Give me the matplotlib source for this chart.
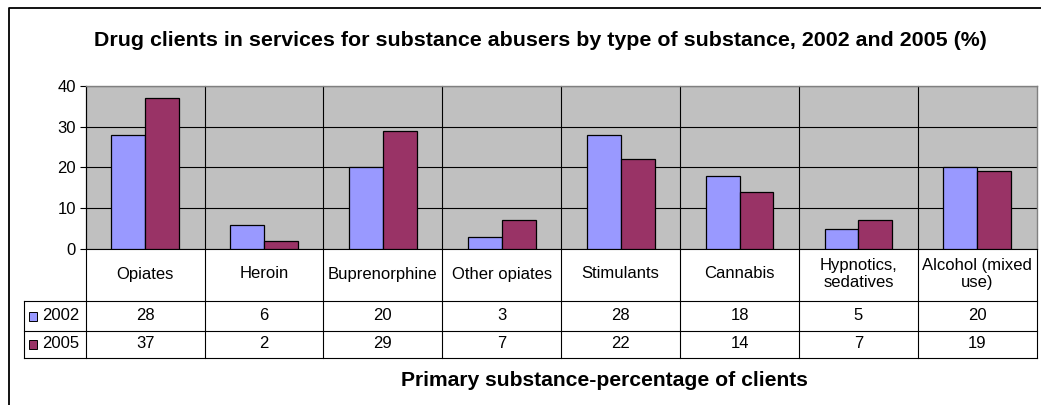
import matplotlib
matplotlib.use("Agg")
import matplotlib.pyplot as plt
import matplotlib.transforms as mtransforms
from matplotlib.patches import Rectangle
import numpy as np

plt.rcParams['font.family'] = ['Liberation Sans', 'DejaVu Sans']

categories = ["Opiates", "Heroin", "Buprenorphine", "Other opiates", "Stimulants",
              "Cannabis", "Hypnotics,\nsedatives", "Alcohol (mixed\nuse)"]
years = ["2002", "2005"]
values_2002 = [28, 6, 20, 3, 28, 18, 5, 20]
values_2005 = [37, 2, 29, 7, 22, 14, 7, 19]
colors = ["#9999FF", "#993366"]

W, H = 1041, 405
fig = plt.figure(figsize=(W / 100, H / 100), dpi=100)

# plot area in pixels
px_left, px_right, px_top, px_bottom = 85.7, 1036.7, 85.7, 249
ax = fig.add_axes([px_left / W, (H - px_bottom) / H,
                   (px_right - px_left) / W, (px_bottom - px_top) / H])
ax.set_facecolor("#C0C0C0")

x = np.arange(len(categories))
bw = 0.285
ax.bar(x - bw / 2, values_2002, bw, color=colors[0], edgecolor="black", linewidth=0.9, zorder=3)
ax.bar(x + bw / 2, values_2005, bw, color=colors[1], edgecolor="black", linewidth=0.9, zorder=3)

ax.set_xlim(-0.5, len(categories) - 0.5)
ax.set_ylim(0, 40)
ax.set_yticks([0, 10, 20, 30, 40])
ax.tick_params(axis='y', direction='out', length=4, width=0.8, labelsize=12, pad=3)
ax.set_xticks([])
ax.yaxis.grid(True, color="black", linewidth=0.8)
ax.set_axisbelow(True)
for s in ["top", "right"]:
    ax.spines[s].set_color("#808080")
    ax.spines[s].set_linewidth(1.0)
ax.spines["left"].set_linewidth(0.8)
ax.spines["bottom"].set_linewidth(0.8)


# table below the plot: x in data units, y in axes fraction
def fy(py):
    return (px_bottom - py) / (px_bottom - px_top)


trans = mtransforms.blended_transform_factory(ax.transData, ax.transAxes)
x_leg = -0.5 - (px_left - 24.3) / ((px_right - px_left) / len(categories))
row_y = [249, 301, 331, 358]
lkw = dict(color="black", linewidth=0.8, transform=trans, clip_on=False)

for i in range(len(categories)):
    xd = i - 0.5
    ax.plot([xd, xd], [1, fy(row_y[-1])], **lkw)
ax.plot([7.5, 7.5], [0, fy(row_y[-1])], **lkw)
ax.plot([x_leg, x_leg], [fy(row_y[1]), fy(row_y[-1])], **lkw)
for py in row_y[1:]:
    ax.plot([x_leg, 7.5], [fy(py), fy(py)], **lkw)

for i, cat in enumerate(categories):
    ax.text(i, fy(274), cat, transform=trans, ha="center", va="center",
            fontsize=12, linespacing=1.2)
    ax.text(i, fy(316), str(values_2002[i]), transform=trans, ha="center", va="center", fontsize=12)
    ax.text(i, fy(344), str(values_2005[i]), transform=trans, ha="center", va="center", fontsize=12)

# legend keys in the table
for yr, c, py in zip(years, colors, [316, 344]):
    fig.patches.append(Rectangle((28.5 / W, (H - py - 4.5) / H), 8.5 / W, 8.5 / H,
                                 transform=fig.transFigure, facecolor=c,
                                 edgecolor="black", linewidth=0.7))
    fig.text(42.5 / W, (H - py) / H, yr, ha="left", va="center", fontsize=12)

fig.text(540 / W, (H - 41) / H,
         "Drug clients in services for substance abusers by type of substance, 2002 and 2005 (%)",
         ha="center", va="center", fontsize=15.4, fontweight="bold")
fig.text(604 / W, (H - 380) / H, "Primary substance-percentage of clients",
         ha="center", va="center", fontsize=15.2, fontweight="bold")

# outer chart frame (top and left edges visible)
fig.add_artist(plt.Line2D([8.5 / W, 8.5 / W, 1.0], [0, (H - 7.5) / H, (H - 7.5) / H],
                          transform=fig.transFigure, color="black", linewidth=1.3))

fig.savefig("out.png", dpi=100)
